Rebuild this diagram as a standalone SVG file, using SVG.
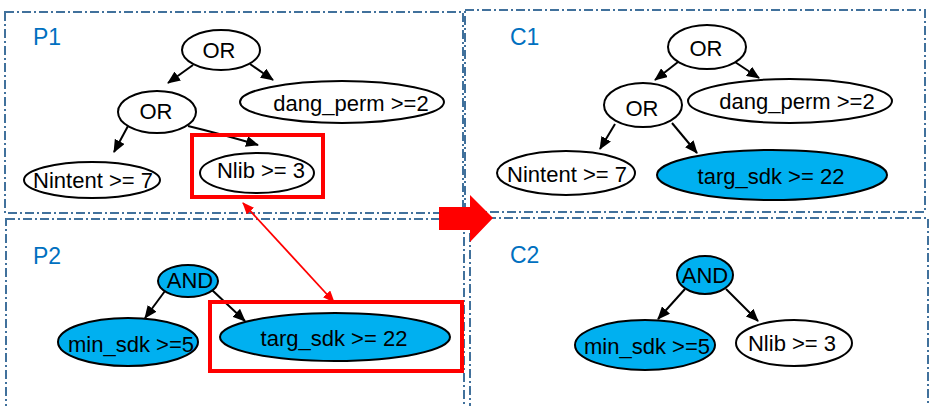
<svg xmlns="http://www.w3.org/2000/svg" width="929" height="406" viewBox="0 0 929 406">
<style>
.box{fill:none;stroke:#41719C;stroke-width:2;stroke-dasharray:9 3 2 3}
.lbl{font-family:"Liberation Sans",Arial,sans-serif;font-size:23px;fill:#0070C0}
.n{stroke:#000;stroke-width:2}
.w{fill:#fff}
.b{fill:#00B0F0}
.t{font-family:"Liberation Sans",Arial,sans-serif;font-size:22px;fill:#000;text-anchor:middle}
.e{stroke:#000;stroke-width:2;fill:none;marker-end:url(#ah)}
.hl{fill:none;stroke:#ff0000;stroke-width:4}
</style>
<defs>
<marker id="ah" markerUnits="userSpaceOnUse" markerWidth="13" markerHeight="11" refX="12" refY="5.5" orient="auto"><path d="M0,0 L13,5.5 L0,11 z" fill="#000"/></marker>
<marker id="rh" markerUnits="userSpaceOnUse" markerWidth="12" markerHeight="10" refX="11" refY="5" orient="auto-start-reverse"><path d="M0,0 L12,5 L0,10 z" fill="#ff0000"/></marker>
</defs>
<g id="frames">
<rect class="box" x="5" y="12" width="458" height="201"/>
<rect class="box" x="6" y="219" width="458" height="200"/>
<rect class="box" x="465" y="10" width="460" height="202"/>
<rect class="box" x="470" y="218" width="458" height="200"/>
<text class="lbl" x="33" y="45">P1</text>
<text class="lbl" x="33" y="264">P2</text>
<text class="lbl" x="510" y="45">C1</text>
<text class="lbl" x="510" y="263">C2</text>
</g>
<g id="connectors">
<line class="e" x1="193" y1="65" x2="168" y2="83"/>
<line class="e" x1="250" y1="64" x2="273" y2="80"/>
<line class="e" x1="128" y1="126" x2="114" y2="152"/>
<path class="e" d="M188,126 Q225,135 258,145"/>
<line class="e" x1="165" y1="291" x2="145" y2="318"/>
<line class="e" x1="212" y1="290" x2="245" y2="321"/>
<line class="e" x1="678" y1="62" x2="655" y2="80"/>
<line class="e" x1="735" y1="62" x2="759" y2="78"/>
<line class="e" x1="615" y1="124" x2="600" y2="149"/>
<line class="e" x1="672" y1="123" x2="697" y2="153"/>
<line class="e" x1="685" y1="289" x2="658" y2="319"/>
<line class="e" x1="726" y1="289" x2="758" y2="321"/>
<line x1="243" y1="203" x2="334" y2="302" stroke="#ff0000" stroke-width="1.8" marker-start="url(#rh)" marker-end="url(#rh)"/>
<path d="M439,207 L470,207 L470,195 L493,218 L470,242 L470,230 L439,230 z" fill="#ff0000"/>
</g>
<g id="p1-or">
<ellipse class="n w" cx="221" cy="50" rx="39" ry="20"/>
<text class="t" x="219" y="58">OR</text>
</g>
<g id="p1-or2">
<ellipse class="n w" cx="157" cy="112" rx="39" ry="21"/>
<text class="t" x="156" y="119">OR</text>
</g>
<g id="p1-dang">
<ellipse class="n w" cx="342" cy="102" rx="102" ry="21"/>
<text class="t" x="351" y="111">dang_perm &gt;=2</text>
</g>
<g id="p1-nintent">
<ellipse class="n w" cx="92" cy="180" rx="68" ry="18"/>
<text class="t" x="93" y="188">Nintent &gt;= 7</text>
</g>
<g id="p1-nlib">
<rect class="hl" x="192" y="135" width="131" height="62"/>
<ellipse class="n w" cx="257" cy="173" rx="57" ry="20"/>
<text class="t" x="261" y="178">Nlib &gt;= 3</text>
</g>
<g id="p2-and">
<ellipse class="n b" cx="188" cy="281" rx="30" ry="16"/>
<text class="t" x="190" y="288">AND</text>
</g>
<g id="p2-minsdk">
<ellipse class="n b" cx="128" cy="342" rx="70" ry="24"/>
<text class="t" x="131" y="352">min_sdk &gt;=5</text>
</g>
<g id="p2-targ">
<rect class="hl" x="210" y="302" width="252" height="69"/>
<ellipse class="n b" cx="335" cy="337" rx="115" ry="24"/>
<text class="t" x="334" y="346">targ_sdk &gt;= 22</text>
</g>
<g id="c1-or">
<ellipse class="n w" cx="707" cy="47" rx="39" ry="22"/>
<text class="t" x="706" y="56">OR</text>
</g>
<g id="c1-or2">
<ellipse class="n w" cx="643" cy="105" rx="39" ry="22"/>
<text class="t" x="642" y="116">OR</text>
</g>
<g id="c1-dang">
<ellipse class="n w" cx="790" cy="101" rx="102" ry="22"/>
<text class="t" x="797" y="109">dang_perm &gt;=2</text>
</g>
<g id="c1-nintent">
<ellipse class="n w" cx="566" cy="173" rx="69" ry="22"/>
<text class="t" x="567" y="182">Nintent &gt;= 7</text>
</g>
<g id="c1-targ">
<ellipse class="n b" cx="772" cy="175" rx="115" ry="25"/>
<text class="t" x="771" y="184">targ_sdk &gt;= 22</text>
</g>
<g id="c2-and">
<ellipse class="n b" cx="705" cy="275" rx="28" ry="19"/>
<text class="t" x="705" y="283">AND</text>
</g>
<g id="c2-minsdk">
<ellipse class="n b" cx="645" cy="345" rx="70" ry="25"/>
<text class="t" x="647" y="354">min_sdk &gt;=5</text>
</g>
<g id="c2-nlib">
<ellipse class="n w" cx="794" cy="343" rx="58" ry="23"/>
<text class="t" x="792" y="351">Nlib &gt;= 3</text>
</g>
</svg>
